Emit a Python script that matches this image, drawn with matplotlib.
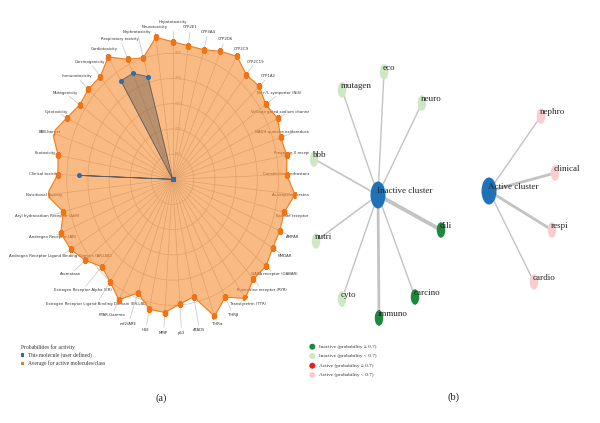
import numpy as np
import matplotlib
matplotlib.use("Agg")
import matplotlib.pyplot as plt
from matplotlib.patches import Ellipse, Rectangle, Circle
from matplotlib.transforms import Bbox, TransformedBbox, offset_copy

W, H = 600, 423

# ---------------- data: panel (a) radar ----------------
categories = [
    "Hepatotoxicity", "CYP2E1", "CYP3A4", "CYP2D6", "CYP2C9", "CYP2C19", "CYP1A2",
    "Na+/I- symporter (NIS)", "Voltage gated sodium channel (VGSC)",
    "NADH-quinone oxidoreductase (NADHOX)", "Pregnane X receptor (PXR)",
    "Constitutive androstane receptor (CAR)", "Achetylcholinesterase (AChE)",
    "Kainate receptor (KAR)", "AMPAR", "NMDAR", "GABA receptor (GABAR)",
    "Ryanodine receptor (RYR)", "Transtyretrin (TTR)", "THRβ", "THRα", "ATAD5",
    "p53", "MMP", "HSE", "nrf2/ARE", "PPAR-Gamma",
    "Estrogen Receptor Ligand Binding Domain (ER-LBD)", "Estrogen Receptor Alpha (ER)",
    "Aromatase", "Androgen Receptor Ligand Binding Domain (AR-LBD)",
    "Androgen Receptor (AR)", "Aryl hydrocarbon Receptor (AhR)",
    "Nutritional toxicity", "Clinical toxicity", "Ecotoxicity", "BBB-barrier",
    "Cytotoxicity", "Mutagenicity", "Immunotoxicity", "Carcinogenicity",
    "Cardiotoxicity", "Respiratory toxicity", "Nephrotoxicity", "Neurotoxicity",
]
avg_values = [54.6, 53.5, 53.5, 55.6, 57.5, 54.2, 55.1, 53.1, 55.2, 53.7, 54.8, 53.9,
              58.1, 54.3, 54.6, 54.6, 56.0, 55.0, 58.4, 53.0, 57.8, 47.7, 49.6, 53.0,
              52.7, 48.0, 54.2, 50.2, 48.2, 52.3, 55.6, 57.0, 53.2, 59.8, 54.3, 54.9,
              59.7, 55.6, 52.9, 53.5, 53.2, 57.3, 52.1, 50.2, 56.9]
mol_values = [0] * 45
mol_values[34] = 44.1   # Clinical toxicity
mol_values[41] = 46.2   # Cardiotoxicity
mol_values[42] = 46.0   # Respiratory toxicity
mol_values[43] = 42.4   # Nephrotoxicity
tick_values = [10, 20, 30, 40, 50]
tick_labels = ["10%", "20%", "30%", "40%", "50%"]
legend_a_title = "Probabilities for activity"
legend_a_labels = ["This molecule (user defined)", "Average for active molecules/class"]

# ---------------- data: panel (b) network ----------------
cluster_names = ["Inactive cluster", "Active cluster"]
cluster_x = [378, 489]
cluster_y = [195, 191]
node_names = ["eco", "mutagen", "neuro", "bbb", "nutri", "dili", "cyto", "carcino",
              "immuno", "nephro", "clinical", "respi", "cardio"]
node_cluster = [0, 0, 0, 0, 0, 0, 0, 0, 0, 1, 1, 1, 1]
node_class = [1, 1, 1, 1, 1, 0, 1, 0, 0, 3, 3, 3, 3]
node_x = [384, 342, 422, 314, 316, 441, 342, 415, 379, 541, 555, 552, 534]
node_y = [72, 90, 103, 159, 241, 230, 299, 297, 318, 116, 173, 230, 282]
edge_width = [1.0, 1.0, 1.0, 1.2, 1.1, 2.8, 1.0, 1.0, 2.0, 1.0, 2.0, 2.0, 1.0]
class_labels = ["Inactive (probability \u2265 0.7)", "Inactive (probability < 0.7)",
                "Active (probability \u2265 0.7)", "Active (probability < 0.7)"]
class_colors = ["#1b8a3c", "#cde8c3", "#ec1c1c", "#f9cdd0"]

SANS_N = ["Liberation Sans Narrow", "DejaVu Sans"]
SERIF = ["Liberation Serif", "DejaVu Serif"]

fig = plt.figure(figsize=(W / 100, H / 100), dpi=100)

# ---------------- radar ----------------
cx, cy = 172.6, 179.3
px_per_unit = 2.52
rmax = 59.0
kx = 0.84
ry = rmax * px_per_unit
rx = ry * kx
ax = fig.add_axes([(cx - rx) / W, (H - cy - ry) / H, 2 * rx / W, 2 * ry / H],
                  projection="polar")
ax.set_aspect("auto")
ax.set_theta_zero_location("N")
ax.set_theta_direction(-1)
n = len(categories)
angles = np.deg2rad(np.arange(n) * 360.0 / n)
ax.set_ylim(0, rmax)
ax.set_yticks(tick_values)
ax.set_yticklabels([])
ax.set_xticks(angles)
ax.set_xticklabels([])
ax.tick_params(length=0)
ax.grid(True, color="#c4c4c4", lw=0.5)
ax.spines["polar"].set_visible(False)
ax.patch.set_visible(False)

ang_c = np.append(angles, angles[0])
avg_c = np.append(avg_values, avg_values[0])
mol_c = np.append(mol_values, mol_values[0])
ax.fill(ang_c, avg_c, color="#f5821f", alpha=0.55, lw=0, zorder=2)
ax.plot(ang_c, avg_c, color="#f37a1a", lw=0.8, zorder=3)
ax.plot(angles, avg_values, ls="none", marker="s", ms=2.2, color="#f07414", zorder=4)
ax.fill(ang_c, mol_c, color="#4a4a4a", alpha=0.36, lw=0, zorder=5)
ax.plot(ang_c, mol_c, color="#5f5f5f", lw=0.6, zorder=6)
ax.plot(angles, mol_values, ls="none", marker="o", ms=2.6, color="#2a6db3", zorder=7)

clip_box = TransformedBbox(Bbox.from_extents(0, 0, 308.5 / W, 1), fig.transFigure)
label_r = 61.0
tr_top = offset_copy(ax.transData, fig=fig, x=0, y=4, units="dots")
for i, (a, lab) in enumerate(zip(angles, categories)):
    kw = dict(ha="center", va="center", fontsize=2.75, family=SANS_N,
              color="#333333", zorder=1)
    if i == 0:
        t = ax.text(a, label_r, lab, transform=tr_top, **kw)
    else:
        t = ax.text(a, label_r, lab, **kw)
    t.set_clip_on(True)
    t.set_clip_box(clip_box)
    t.set_clip_path(None)

tr = offset_copy(ax.transData, fig=fig, x=2.5, y=0, units="dots")
for v, lab in zip(tick_values, tick_labels):
    ax.text(0, v, lab, transform=tr, ha="left", va="center", fontsize=2.3,
            family=SANS_N, color="#9a9a9a", zorder=1)

# ---------------- overlay (network, legends, panel labels) ----------------
ov = fig.add_axes([0, 0, 1, 1])
ov.set_xlim(0, W)
ov.set_ylim(H, 0)
ov.axis("off")
ov.patch.set_visible(False)

for i in range(len(node_names)):
    c = node_cluster[i]
    ov.plot([cluster_x[c], node_x[i]], [cluster_y[c], node_y[i]], color="#c3c3c3",
            lw=edge_width[i], solid_capstyle="round", zorder=1)
for i in range(len(node_names)):
    ov.add_patch(Ellipse((node_x[i], node_y[i]), 8.5, 15.5,
                         color=class_colors[node_class[i]], lw=0, zorder=2))
    ov.text(node_x[i] - 1, node_y[i] - 4, node_names[i], ha="left", va="center",
            fontsize=6.5, family=SERIF, color="#222222", zorder=3)
for j in range(len(cluster_names)):
    ov.add_patch(Ellipse((cluster_x[j], cluster_y[j]), 15, 27, color="#1f72b8",
                         lw=0, zorder=2))
    ov.text(cluster_x[j] - 1, cluster_y[j] - 4, cluster_names[j], ha="left",
            va="center", fontsize=6.5, family=SERIF, color="#222222", zorder=3)

# legend (b)
leg_b_y = [346.7, 356.0, 365.7, 375.0]
for yy, lab, col in zip(leg_b_y, class_labels, class_colors):
    ov.add_patch(Circle((312.3, yy), 3.0, color=col, lw=0))
    ov.text(319.3, yy, lab, ha="left", va="center", fontsize=3.8, family=SERIF,
            color="#333333")

# legend (a)
ov.text(21, 346.7, legend_a_title, ha="left", va="center", fontsize=4.0,
        family=SERIF, color="#333333")
for yy, lab, col in zip([355.0, 363.3], legend_a_labels, ["#2a6db3", "#f37a1a"]):
    ov.add_patch(Rectangle((21, yy - 1.7), 3.4, 3.4, color=col, lw=0))
    ov.text(28.3, yy, lab, ha="left", va="center", fontsize=4.0, family=SERIF,
            color="#333333")

ov.text(161, 398, "(a)", ha="center", va="center", fontsize=7.5, family=SERIF,
        color="#222222")
ov.text(453, 397.5, "(b)", ha="center", va="center", fontsize=7.5, family=SERIF,
        color="#222222")

fig.savefig("out.png", dpi=100, facecolor="white")
